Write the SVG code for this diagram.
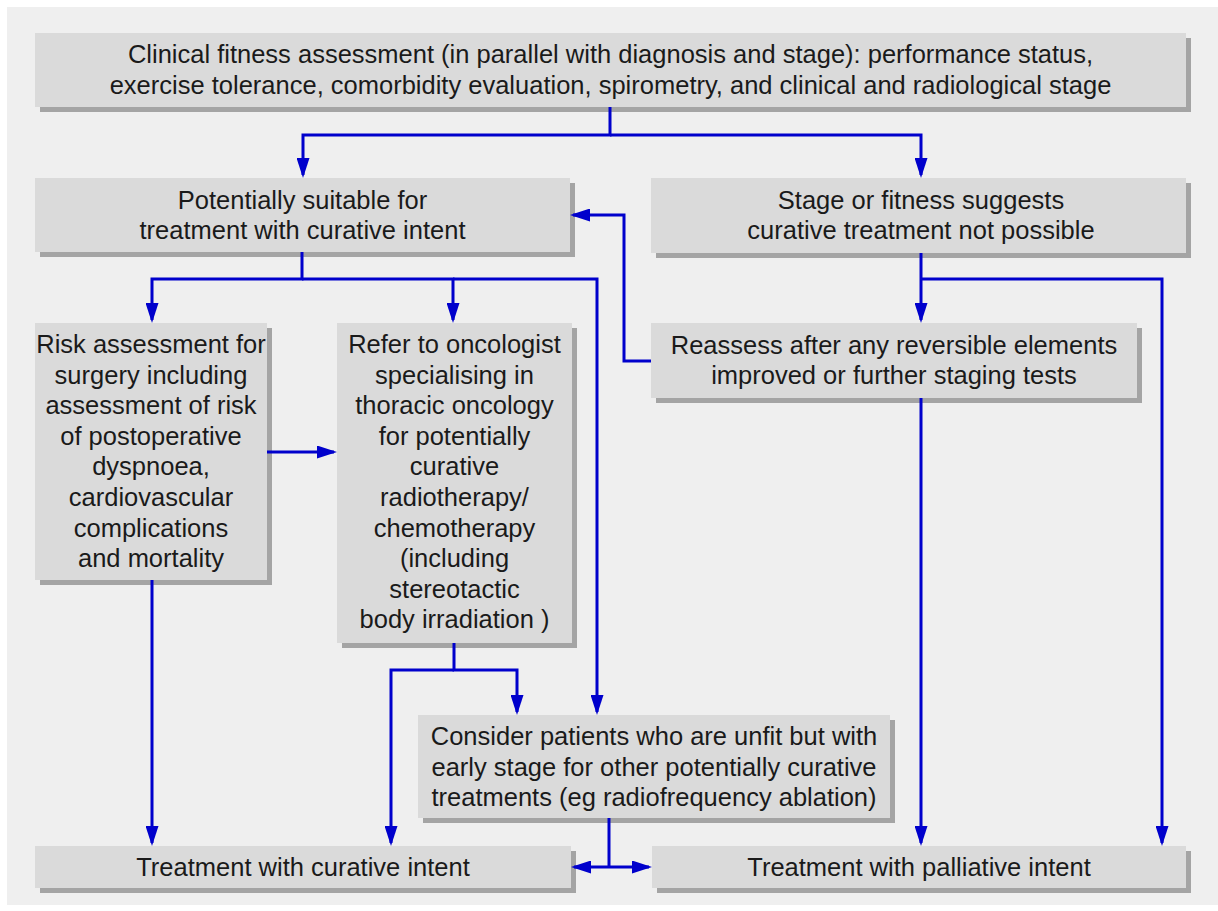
<svg xmlns="http://www.w3.org/2000/svg" width="1218" height="911" viewBox="0 0 1218 911">
  <style>
    .panel { fill: #efefef; }
    .box { fill: #dadada; }
    .shadow { fill: #a4a4a4; }
    .label { font-family: "Liberation Sans", Arial, sans-serif; font-size: 25.5px; fill: #1a1a1a; text-anchor: middle; }
    .link { fill: none; stroke: #0000cc; stroke-width: 3; stroke-linejoin: miter; }
    .arrow { marker-end: url(#head); }
  </style>
  <defs>
    <marker id="head" markerUnits="userSpaceOnUse" viewBox="0 0 20 13" markerWidth="20" markerHeight="13" refX="17" refY="6.5" orient="auto">
      <path d="M0,0 L20,6.5 L0,13 z" fill="#0000cc"/>
    </marker>
  </defs>

  <rect class="panel" x="7" y="7" width="1211" height="898"/>

  <!-- Fitness assessment -->
  <g id="node-assessment">
    <rect class="shadow" x="40" y="38" width="1151" height="74"/>
    <rect class="box" x="35" y="33" width="1151" height="74"/>
    <text class="label" x="610.5" y="63">Clinical fitness assessment (in parallel with diagnosis and stage): performance status,</text>
    <text class="label" x="610.5" y="94">exercise tolerance, comorbidity evaluation, spirometry, and clinical and radiological stage</text>
  </g>

  <g id="node-suitable">
    <rect class="shadow" x="40" y="183" width="535" height="74"/>
    <rect class="box" x="35" y="178" width="535" height="74"/>
    <text class="label" x="302.5" y="209">Potentially suitable for</text>
    <text class="label" x="302.5" y="239">treatment with curative intent</text>
  </g>

  <g id="node-not-possible">
    <rect class="shadow" x="656" y="183" width="535" height="75"/>
    <rect class="box" x="651" y="178" width="535" height="75"/>
    <text class="label" x="921" y="209">Stage or fitness suggests</text>
    <text class="label" x="921" y="239">curative treatment not possible</text>
  </g>

  <g id="node-risk">
    <rect class="shadow" x="40" y="328" width="232" height="257"/>
    <rect class="box" x="35" y="323" width="232" height="257"/>
    <text class="label" x="151" y="353">Risk assessment for</text>
    <text class="label" x="151" y="383.6">surgery including</text>
    <text class="label" x="151" y="414.2">assessment of risk</text>
    <text class="label" x="151" y="444.8">of postoperative</text>
    <text class="label" x="151" y="475.4">dyspnoea,</text>
    <text class="label" x="151" y="506">cardiovascular</text>
    <text class="label" x="151" y="536.6">complications</text>
    <text class="label" x="151" y="567.2">and mortality</text>
  </g>

  <g id="node-oncologist">
    <rect class="shadow" x="342" y="328" width="235" height="320"/>
    <rect class="box" x="337" y="323" width="235" height="320"/>
    <text class="label" x="454.5" y="353">Refer to oncologist</text>
    <text class="label" x="454.5" y="383.6">specialising in</text>
    <text class="label" x="454.5" y="414.2">thoracic oncology</text>
    <text class="label" x="454.5" y="444.8">for potentially</text>
    <text class="label" x="454.5" y="475.4">curative</text>
    <text class="label" x="454.5" y="506">radiotherapy/</text>
    <text class="label" x="454.5" y="536.6">chemotherapy</text>
    <text class="label" x="454.5" y="567.2">(including</text>
    <text class="label" x="454.5" y="597.8">stereotactic</text>
    <text class="label" x="454.5" y="628.4">body irradiation )</text>
  </g>

  <g id="node-reassess">
    <rect class="shadow" x="656" y="328" width="486" height="75"/>
    <rect class="box" x="651" y="323" width="486" height="75"/>
    <text class="label" x="894" y="353.5">Reassess after any reversible elements</text>
    <text class="label" x="894" y="383.5">improved or further staging tests</text>
  </g>

  <g id="node-other-curative">
    <rect class="shadow" x="423" y="720" width="472" height="103"/>
    <rect class="box" x="418" y="715" width="472" height="103"/>
    <text class="label" x="654" y="745">Consider patients who are unfit but with</text>
    <text class="label" x="654" y="775.5">early stage for other potentially curative</text>
    <text class="label" x="654" y="806">treatments (eg radiofrequency ablation)</text>
  </g>

  <g id="node-curative">
    <rect class="shadow" x="40" y="851" width="536" height="42"/>
    <rect class="box" x="35" y="846" width="536" height="42"/>
    <text class="label" x="303" y="876">Treatment with curative intent</text>
  </g>

  <g id="node-palliative">
    <rect class="shadow" x="657" y="851" width="534" height="42"/>
    <rect class="box" x="652" y="846" width="534" height="42"/>
    <text class="label" x="919" y="876">Treatment with palliative intent</text>
  </g>

  <g id="connectors">
    <path class="link arrow" d="M610,107 V135 H303 V175"/>
    <path class="link arrow" d="M610,135 H921 V175"/>
    <path class="link arrow" d="M302,252 V279 H152 V320"/>
    <path class="link arrow" d="M302,279 H453 V320"/>
    <path class="link arrow" d="M453,279 H597 V712"/>
    <path class="link arrow" d="M651,361 H624 V215 H573"/>
    <path class="link arrow" d="M921,253 V320"/>
    <path class="link arrow" d="M921,279 H1162 V843"/>
    <path class="link arrow" d="M921,398 V843"/>
    <path class="link arrow" d="M267,452 H334"/>
    <path class="link arrow" d="M152,580 V843"/>
    <path class="link arrow" d="M454,643 V670 H517 V712"/>
    <path class="link arrow" d="M454,670 H391 V843"/>
    <path class="link" d="M609,818 V867"/>
    <path class="link arrow" d="M609,867 H574"/>
    <path class="link arrow" d="M609,867 H649"/>
  </g>
</svg>
